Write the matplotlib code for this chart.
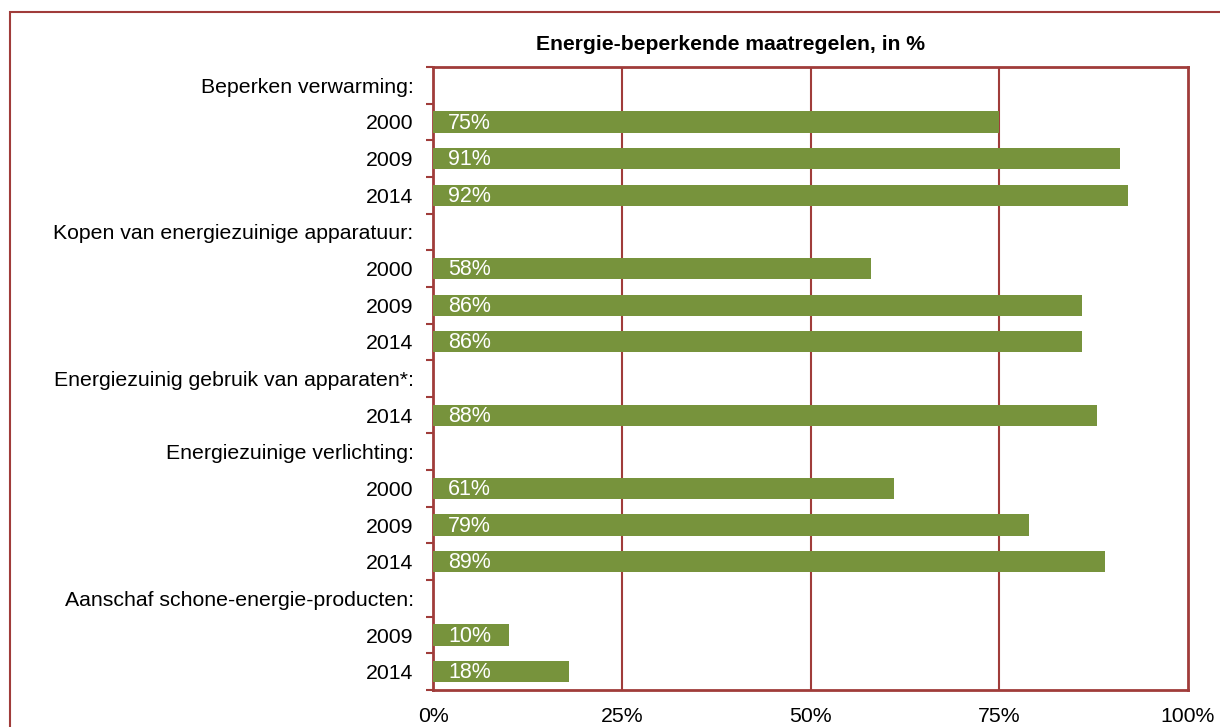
import numpy as np
import matplotlib.pyplot as plt
from matplotlib.patches import Rectangle
from matplotlib.ticker import FixedLocator

plt.rcParams['font.family'] = ['Liberation Sans', 'DejaVu Sans']

# rijen van boven naar beneden; None = kopregel zonder balk
labels = ['Beperken verwarming:', '2000', '2009', '2014',
          'Kopen van energiezuinige apparatuur:', '2000', '2009', '2014',
          'Energiezuinig gebruik van apparaten*:', '2014',
          'Energiezuinige verlichting:', '2000', '2009', '2014',
          'Aanschaf schone-energie-producten:', '2009', '2014']
waarden = [None, 75, 91, 92,
           None, 58, 86, 86,
           None, 88,
           None, 61, 79, 89,
           None, 10, 18]
xticks = [0, 25, 50, 75, 100]

rood = '#A03C3A'
groen = '#77933C'

fig = plt.figure(figsize=(12.2, 7.27), dpi=100)
W, H = 1220, 727

# kader om de grafiek
fig.patches.append(Rectangle((10 / W, -0.05), 1.1, 1 - 12 / H + 0.05,
                             transform=fig.transFigure, fill=False,
                             edgecolor=rood, linewidth=1.5))

ax = fig.add_axes([433 / W, 1 - 690 / H, (1188 - 433) / W, (690 - 67) / H])

y = np.arange(len(labels))
for yi, v in zip(y, waarden):
    if v is None:
        continue
    ax.barh(yi, v, height=0.58, color=groen, zorder=3)
    ax.text(2.0, yi + 0.03, f'{v}%', color='white', fontsize=15.5, va='center', ha='left', zorder=4)

ax.set_xlim(0, 100)
ax.set_ylim(len(labels) - 0.5, -0.5)

ax.set_yticks(y)
ax.set_yticklabels(labels, fontsize=15.3)
ax.yaxis.set_minor_locator(FixedLocator(np.arange(-0.5, len(labels), 1)))
ax.tick_params(axis='y', which='major', length=0, pad=14)
ax.tick_params(axis='y', which='minor', length=5, width=1.5, color=rood, direction='out')

ax.set_xticks(xticks)
ax.set_xticklabels([f'{t}%' for t in xticks], fontsize=15.3)
ax.tick_params(axis='x', length=0, pad=12)

for t in xticks[1:-1]:
    ax.axvline(t, color=rood, linewidth=1.5, zorder=1)

for s in ax.spines.values():
    s.set_color(rood)
    s.set_linewidth(2)

fig.text(731 / W, 1 - 44 / H, 'Energie-beperkende maatregelen, in %',
         fontsize=15.2, fontweight='bold', ha='center', va='center')

fig.savefig('out.png', dpi=100)
